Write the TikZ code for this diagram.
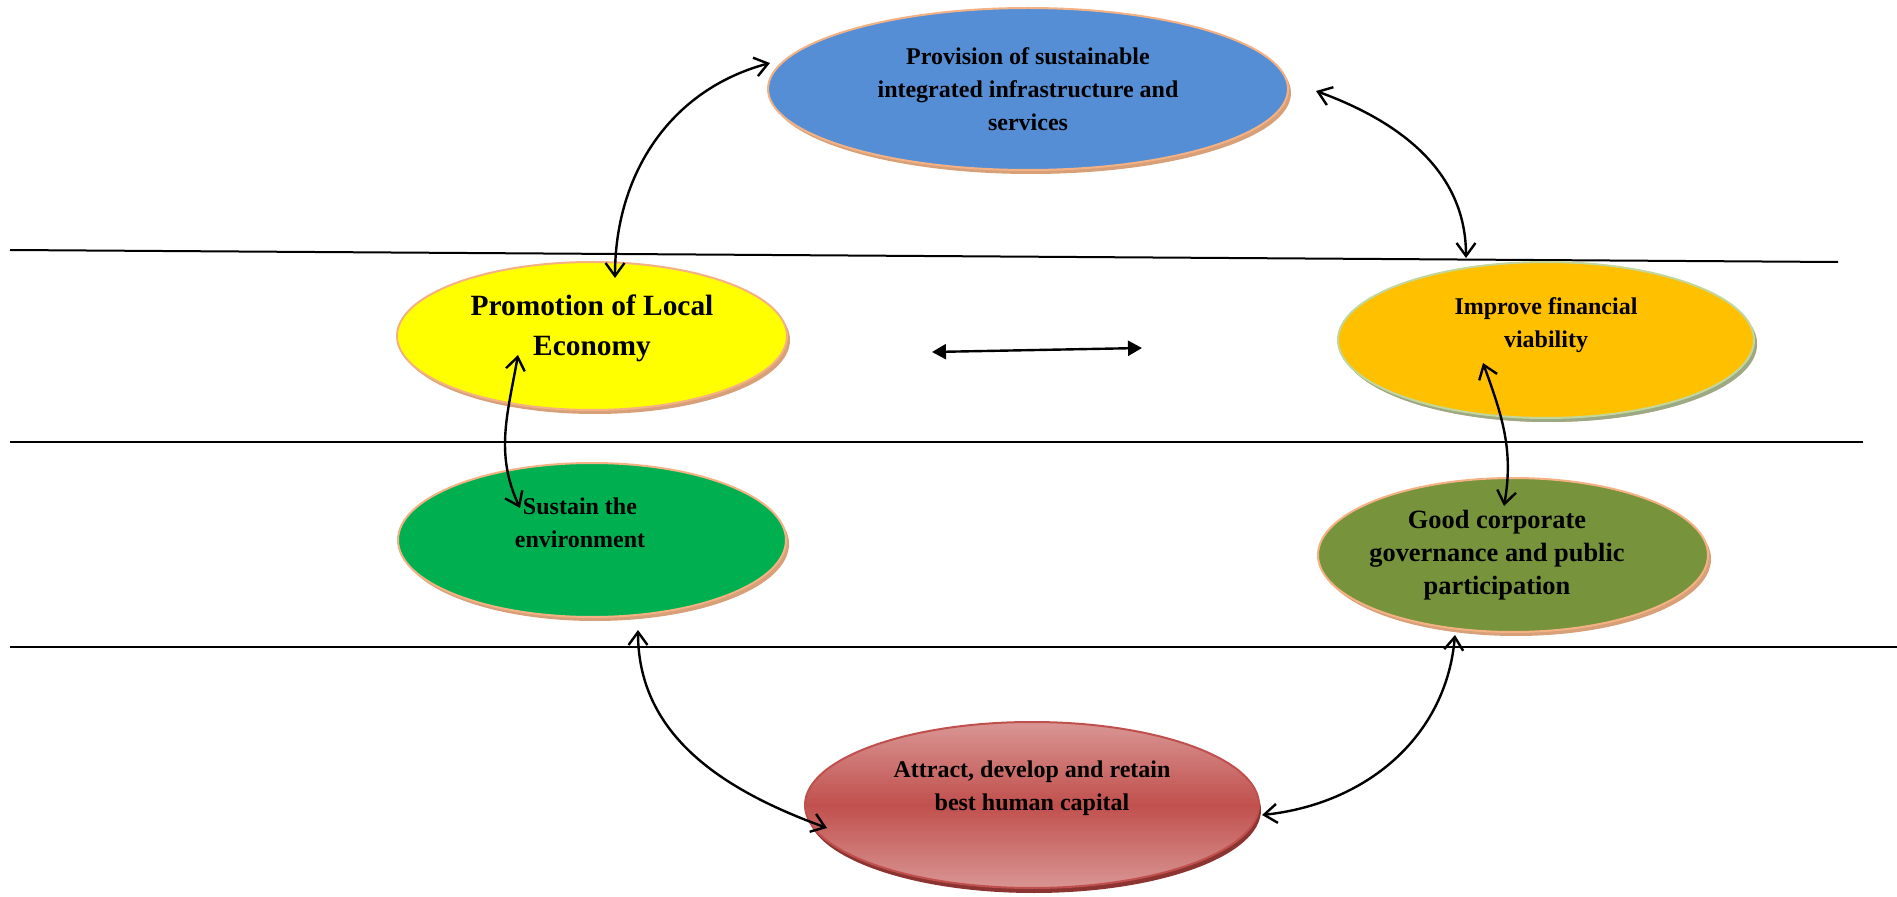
\documentclass[tikz,border=0pt]{standalone}
\usepackage{fontspec}
\setmainfont{Liberation Serif}
\usetikzlibrary{shapes.geometric,shadows,arrows.meta}

\definecolor{blueFill}{HTML}{558ED5}
\definecolor{yelFill}{HTML}{FFFF00}
\definecolor{ornFill}{HTML}{FFC000}
\definecolor{grnFill}{HTML}{00B050}
\definecolor{olvFill}{HTML}{77933C}
\definecolor{redDk}{HTML}{C0504D}
\definecolor{redLt}{HTML}{D99694}
\definecolor{redShadow}{HTML}{8C3432}
\definecolor{peach}{HTML}{F4B183}
\definecolor{tanShadow}{HTML}{D7A078}
\definecolor{ornEdge}{HTML}{C3D69B}
\definecolor{ornShadow}{HTML}{9BAA85}

\begin{document}
\begin{tikzpicture}[x=0.5pt, y=0.5pt,
    blob/.style = {ellipse, draw=peach, line width=1pt, inner sep=0pt,
        drop shadow={shadow xshift=1.5pt, shadow yshift=-2pt, opacity=1, fill=tanShadow}},
    txt/.style = {font=\bfseries\fontsize{12}{16.5}\selectfont, align=center},
    link/.style = {{Straight Barb[length=6.5pt,width=9.5pt]}-{Straight Barb[length=6.5pt,width=9.5pt]}, line width=1.2pt},
    divider/.style = {line width=1pt}]
    \useasboundingbox (0,0) rectangle (1897,896);
    % Dividers
    \draw[divider] (10,646) -- (1838,634);
    \draw[divider] (10,454) -- (1863,454);
    \draw[divider] (10,249) -- (1897,249);
    % Nodes
    \node[blob, fill=blueFill, minimum width=260pt, minimum height=81pt,
        label={[txt]center:Provision of sustainable\\integrated infrastructure and\\services}] (blue) at (1028,807) {};
    \node[blob, fill=yelFill, minimum width=195pt, minimum height=74pt,
        label={[txt, font=\bfseries\fontsize{14.7}{20}\selectfont, yshift=4pt]center:Promotion of Local\\Economy}] (yel) at (592,560) {};
    \node[blob, fill=ornFill, draw=ornEdge, minimum width=208pt, minimum height=78pt,
        drop shadow={shadow xshift=1.5pt, shadow yshift=-2pt, opacity=1, fill=ornShadow},
        label={[txt, yshift=7.5pt]center:Improve financial\\viability}] (orn) at (1546,556) {};
    \node[blob, fill=grnFill, minimum width=194pt, minimum height=77pt,
        label={[txt, xshift=-6pt, yshift=8.5pt]center:Sustain the\\environment}] (grn) at (592,356) {};
    \node[blob, fill=olvFill, minimum width=195pt, minimum height=77pt,
        label={[txt, font=\bfseries\fontsize{13.2}{16.5}\selectfont, xshift=-8pt]center:Good corporate\\governance and public\\participation}] (olv) at (1513,341) {};
    \node[ellipse, draw=redDk, line width=1pt, inner sep=0pt, top color=redLt, bottom color=redLt, middle color=redDk,
        drop shadow={shadow xshift=1pt, shadow yshift=-2.5pt, opacity=1, fill=redShadow},
        minimum width=227pt, minimum height=83pt,
        label={[txt, yshift=8.5pt]center:Attract, develop and retain\\best human capital}] (red) at (1032,91) {};
    \coordinate (midL) at (932,544);
    \coordinate (midR) at (1142,548);
    % Edges
    \draw[link] ([shift={(23,58)}]yel.center) to[out=90, in=195] ([shift={(-258,26)}]blue.center);
    \draw[link] ([shift={(288,-2)}]blue.center) to[out=-20, in=90] ([shift={(-80,82)}]orn.center);
    \draw[{Triangle[length=7pt,width=7.5pt]}-{Triangle[length=7pt,width=7.5pt]}, line width=1.2pt] (midL) -- (midR);
    \draw[link] ([shift={(-74,-19)}]yel.center) to[out=260, in=115] ([shift={(-72,32)}]grn.center);
    \draw[link] ([shift={(-63,-23)}]orn.center) to[out=290, in=80] ([shift={(-9,49)}]olv.center);
    \draw[link] ([shift={(46,-90)}]grn.center) to[out=270, in=160] ([shift={(-205,-23)}]red.center);
    \draw[link] ([shift={(-58,-80)}]olv.center) to[out=265, in=6] ([shift={(230,-10)}]red.center);
\end{tikzpicture}
\end{document}
